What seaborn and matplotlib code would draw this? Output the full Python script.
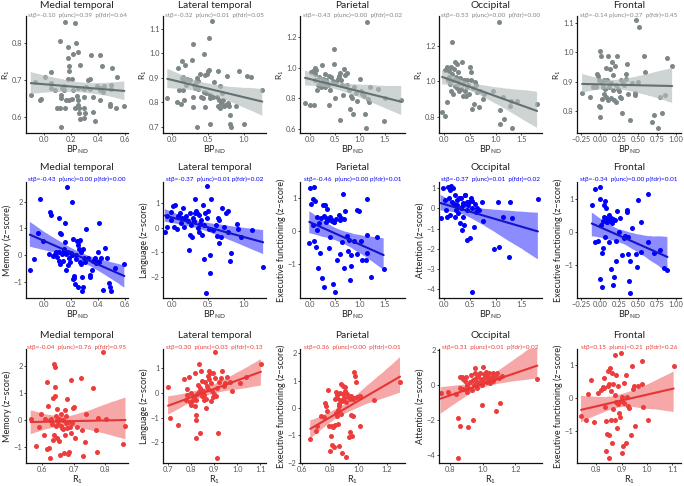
import matplotlib
matplotlib.use("Agg")
import matplotlib.pyplot as plt
import seaborn as sns
import pandas as pd
from matplotlib.collections import PolyCollection

sns.set_theme(style="ticks")
plt.rcParams['font.family'] = ['Lato', 'DejaVu Sans']

regions = ["Medial temporal", "Lateral temporal", "Parietal", "Occipital", "Frontal"]
domains = ["Memory", "Language", "Executive functioning", "Attention", "Executive functioning"]

# ---- row 1: R1 vs BPnd ----
mt_bp_a = [-0.095,0.007,-0.066,-0.03,-0.017,0.051,0.056,0.051,0.080,0.095,0.122,0.12,0.124,0.127,0.129,0.137,0.149,0.154,0.149,0.159,
           0.163,0.176,0.176,0.178,0.185,0.188,0.188,0.205,0.21,0.215,0.217,0.227,0.227,0.241,0.246,0.254,0.256,0.256,0.251,0.259,
           0.266,0.263,0.268,0.29,0.295,0.298,0.3,0.295,0.305,0.312,0.329,0.344,0.349,0.344,0.361,0.361,0.38,0.393,0.412,0.412,
           0.417,0.422,0.429,0.437,0.441,0.495,0.495,0.5,0.485,0.488,0.532,0.539,0.593]
mt_r1_a = [0.659,0.707,0.695,0.645,0.648,0.723,0.692,0.678,0.673,0.623,0.623,0.805,0.573,0.658,0.651,0.678,0.684,0.859,0.672,0.624,
           0.647,0.760,0.702,0.789,0.739,0.725,0.647,0.702,0.649,0.674,0.771,0.854,0.623,0.80,0.656,0.776,0.678,0.647,0.633,0.624,
           0.741,0.611,0.595,0.679,0.623,0.653,0.676,0.598,0.61,0.681,0.699,0.702,0.769,0.675,0.653,0.614,0.589,0.685,0.769,0.674,
           0.645,0.678,0.737,0.667,0.685,0.676,0.687,0.732,0.629,0.635,0.624,0.708,0.629]

lt_bp_a = [-0.07,0.061,0.075,0.099,0.117,0.131,0.131,0.146,0.155,0.155,0.164,0.178,0.192,0.202,0.249,0.272,0.286,0.286,0.296,0.305,
           0.319,0.333,0.343,0.352,0.362,0.366,0.390,0.399,0.427,0.437,0.446,0.460,0.460,0.474,0.484,0.493,0.507,0.516,0.521,0.521,
           0.531,0.554,0.568,0.587,0.624,0.634,0.643,0.653,0.662,0.671,0.685,0.695,0.709,0.728,0.742,0.765,0.775,0.793,0.803,0.812,
           0.822,0.897,0.930,1.0,1.047,1.094,1.258]
lt_r1_a = [0.819,0.801,0.941,0.851,0.795,0.968,0.899,0.888,0.851,0.903,0.810,0.952,0.871,0.895,0.892,0.971,0.821,0.782,1.038,0.871,
           0.858,0.881,0.899,0.70,0.889,0.856,0.916,0.823,0.818,0.844,0.997,0.911,0.782,0.837,0.916,0.926,0.933,1.062,0.711,0.829,
           0.818,1.132,0.823,0.884,0.823,0.929,0.785,0.810,0.775,0.867,0.799,0.837,0.810,0.785,0.789,0.908,0.796,0.785,0.749,0.711,
           0.70,0.785,0.929,0.711,0.908,0.903,0.851]

pa_bp_a = [-0.10,0.0,0.081,0.020,0.068,0.101,0.122,0.095,0.108,0.149,0.162,0.189,0.203,0.216,0.236,0.257,0.270,0.291,0.304,0.324,
           0.338,0.358,0.372,0.385,0.405,0.426,0.459,0.473,0.486,0.50,0.527,0.554,0.574,0.595,0.608,0.622,0.642,0.662,0.689,0.709,
           0.730,0.743,0.777,0.797,0.811,0.831,0.865,0.878,0.912,0.946,1.0,1.027,1.047,1.081,1.108,1.128,1.149,1.162,1.176,1.203,
           1.351,1.486,1.5,1.824]
pa_r1_a = [0.772,0.759,0.759,0.972,0.978,1.0,0.987,0.957,0.917,0.852,0.883,0.935,0.90,0.870,1.015,0.922,0.896,0.870,0.961,0.917,
           0.90,0.883,0.943,0.759,0.852,0.935,0.913,1.020,1.120,0.802,0.907,0.928,0.943,0.965,0.661,0.917,0.885,0.820,0.993,0.950,
           0.965,0.885,0.852,0.733,0.813,0.804,0.70,0.870,0.835,0.783,0.928,0.848,0.83,0.813,0.696,0.609,1.298,0.798,0.776,0.874,
           0.863,0.652,0.804,0.787]

oc_bp_a = [-0.04,0.02,0.007,0.046,0.059,0.078,0.091,0.098,0.111,0.124,0.137,0.143,0.156,0.163,0.176,0.189,0.202,0.208,0.221,0.228,
           0.241,0.254,0.274,0.287,0.293,0.306,0.319,0.352,0.358,0.371,0.391,0.404,0.423,0.436,0.449,0.469,0.489,0.502,0.515,0.521,
           0.541,0.554,0.580,0.599,0.619,0.645,0.671,0.697,0.749,0.775,0.958,1.075,1.088,1.140,1.153,1.283,1.296,1.322,1.414,1.062,
           1.805]
oc_r1_a = [0.828,0.809,1.064,1.079,0.884,1.006,1.057,1.027,0.987,0.949,1.079,1.042,1.219,1.006,0.93,1.070,1.111,0.977,1.027,1.006,
           1.098,0.964,1.051,0.949,0.990,1.020,0.958,1.107,0.986,0.921,1.006,0.949,0.921,0.971,1.008,0.982,0.927,1.079,1.051,1.008,
           0.846,0.964,0.874,0.995,0.982,0.939,0.856,0.945,0.902,0.930,0.945,0.841,0.763,0.915,0.791,0.860,0.893,0.740,0.893,1.336,
           0.871]

fr_bp_a = [-0.233,-0.127,-0.085,-0.051,-0.034,-0.025,-0.008,-0.008,0.0,0.004,0.008,0.021,0.021,0.034,0.042,0.051,0.059,0.068,0.076,0.085,
           0.093,0.106,0.114,0.127,0.136,0.148,0.153,0.161,0.169,0.178,0.191,0.199,0.212,0.220,0.229,0.237,0.254,0.263,0.275,0.284,
           0.297,0.305,0.318,0.339,0.352,0.360,0.373,0.403,0.424,0.458,0.466,0.475,0.500,0.517,0.585,0.593,0.686,0.720,0.763,0.797,
           0.814,0.856,0.890,0.953]
fr_r1_a = [0.860,0.848,0.883,0.881,0.927,0.920,0.906,0.816,0.812,0.779,1.004,0.90,0.987,0.839,0.883,0.904,0.858,0.874,0.947,0.848,
           0.904,0.837,0.987,0.883,0.943,0.843,0.895,0.966,0.923,0.872,0.837,0.952,0.831,0.889,0.987,0.874,0.869,0.848,0.843,0.904,
           0.791,0.895,0.889,0.908,0.927,0.962,0.858,0.770,0.895,0.860,0.854,1.112,0.90,1.088,0.989,0.932,0.762,0.785,0.742,0.848,
           0.791,0.854,0.981,0.952]

# ---- row 2: cognition vs BPnd ----
mt_bp_b = [-0.102,-0.073,-0.041,-0.027,-0.005,0.039,0.044,0.051,0.068,0.080,0.090,0.099,0.109,0.114,0.116,0.119,0.128,0.123,0.138,0.143,
           0.148,0.153,0.157,0.160,0.165,0.167,0.172,0.177,0.182,0.189,0.194,0.201,0.206,0.211,0.213,0.215,0.220,0.225,0.230,0.235,
           0.240,0.245,0.249,0.252,0.257,0.262,0.264,0.269,0.274,0.278,0.281,0.283,0.286,0.288,0.298,0.303,0.310,0.327,0.337,0.341,
           0.358,0.366,0.378,0.383,0.390,0.402,0.404,0.409,0.419,0.433,0.448,0.462,0.477,0.487,0.496,0.528,0.593]
mt_z_b = [-0.56,-0.16,0.84,2.08,0.52,0.04,1.59,1.49,-0.02,0.02,0.10,-0.06,1.39,-0.22,0.12,0.84,0.77,-0.35,0.02,-0.22,
          0.22,0.15,1.18,0.47,0.02,-0.56,2.54,0.12,-0.37,-0.12,-0.25,0.06,1.98,0.0,0.59,-0.89,-0.87,-0.77,-1.09,0.0,
          -0.15,0.52,-1.18,0.37,0.52,0.22,-0.25,0.56,0.10,-0.35,-1.36,-0.81,-1.21,0.22,-0.12,-0.27,0.97,-0.12,-0.74,-0.81,
          -0.56,-0.22,-0.10,-0.31,-0.27,0.10,1.21,-0.25,-0.12,-1.30,0.27,-0.10,-1.05,-1.18,-1.34,-0.50,-0.35]

lt_bp_b = [-0.104,-0.081,-0.071,-0.024,-0.014,0.014,0.024,0.038,0.062,0.085,0.109,0.118,0.133,0.156,0.166,0.180,0.194,0.213,0.227,0.242,
           0.251,0.261,0.275,0.289,0.299,0.313,0.322,0.332,0.346,0.360,0.370,0.379,0.393,0.408,0.417,0.431,0.441,0.450,0.464,0.474,
           0.479,0.488,0.498,0.512,0.521,0.531,0.545,0.573,0.607,0.630,0.640,0.654,0.654,0.678,0.701,0.725,0.749,0.773,0.782,0.801,
           0.820,0.905,0.924,0.962,1.114,1.270]
lt_z_b = [-0.20,0.45,0.04,0.61,0.31,0.86,0.04,0.91,-0.07,0.45,0.59,0.20,0.38,0.79,0.04,0.34,0.45,0.27,-0.89,-0.30,
          0.59,0.11,-0.37,0.38,0.25,0.59,1.16,0.65,0.59,-0.03,-0.20,0.52,0.15,0.31,-0.30,0.89,-1.26,0.11,0.59,-2.66,
          0.38,1.68,0.65,-0.07,-1.84,-1.13,1.16,-0.10,0.11,-0.34,0.38,0.31,-0.64,-0.40,0.79,0.04,0.59,0.65,-0.20,-1.35,
          -1.02,0.15,-0.07,-0.37,-0.12,-1.60]

pa_bp_b = [-0.014,0.0,0.020,0.054,0.068,0.081,0.088,0.108,0.122,0.135,0.149,0.169,0.189,0.203,0.216,0.236,0.257,0.270,0.284,0.297,
           0.311,0.324,0.338,0.351,0.372,0.392,0.405,0.426,0.439,0.459,0.473,0.486,0.507,0.527,0.541,0.574,0.595,0.608,0.622,0.642,
           0.662,0.676,0.689,0.709,0.730,0.757,0.777,0.797,0.811,0.824,0.878,0.932,0.946,0.980,1.014,1.047,1.115,1.135,1.149,1.149,
           1.230,1.338,1.473]
pa_z_b = [-0.35,1.32,0.82,0.98,0.20,1.35,-0.28,0.92,-0.48,0.05,0.45,-1.12,0.25,-0.65,0.40,-1.42,0.80,-1.68,0.48,0.80,
          0.40,0.30,0.68,0.35,-0.50,0.45,-0.18,0.38,0.32,-1.58,0.30,0.30,-1.85,0.38,-0.88,0.50,0.35,-0.70,0.40,-0.32,
          1.15,-1.10,0.38,0.62,-0.15,-0.60,-0.25,-1.48,-1.05,-0.72,-0.28,-0.68,0.65,0.62,-0.28,-0.88,-0.88,0.98,-0.12,-0.65,
          -1.38,-0.18,-1.15]

oc_bp_b = [-0.07,-0.02,0.01,0.03,0.05,0.08,0.10,0.11,0.12,0.14,0.16,0.18,0.19,0.21,0.21,0.23,0.24,0.25,0.27,0.29,
           0.31,0.32,0.34,0.36,0.37,0.38,0.40,0.44,0.45,0.47,0.32,0.36,0.40,0.45,0.49,0.52,0.54,0.55,0.57,0.59,
           0.62,0.64,0.68,0.73,0.76,0.50,0.54,0.96,1.07,1.05,1.14,1.25,1.28,1.32,1.82]
oc_z_b = [-0.49,0.99,0.41,-0.08,-0.41,1.06,0.49,-0.33,0.90,1.11,0.33,0.99,0.20,-0.41,0.66,-0.08,0.41,0.16,-0.25,0.49,
          -0.74,0.0,-1.07,0.25,-0.41,-0.82,0.66,0.33,-1.56,0.16,0.49,0.16,0.66,-0.08,0.33,0.49,0.03,0.36,-0.91,0.20,
          -0.17,0.0,-0.08,0.33,-0.63,-1.48,-4.14,-2.0,-1.89,0.33,-0.41,-2.38,0.33,-0.49,0.44]

fr_bp_b = [-0.105,-0.063,-0.059,-0.029,0.0,0.0,0.008,0.017,0.025,0.034,0.042,0.042,0.050,0.059,0.063,0.067,0.076,0.084,0.092,0.101,
           0.109,0.118,0.126,0.134,0.143,0.151,0.160,0.168,0.176,0.193,0.202,0.210,0.218,0.231,0.252,0.273,0.294,0.315,0.336,0.353,
           0.361,0.370,0.378,0.387,0.395,0.403,0.429,0.483,0.496,0.504,0.538,0.546,0.630,0.639,0.714,0.798,0.840,0.891]
fr_z_b = [0.82,-0.32,1.30,-0.28,-1.42,1.35,0.98,0.20,-0.65,-1.68,0.32,-0.48,0.80,0.45,0.92,-0.15,0.40,0.72,0.30,0.30,
          0.38,0.50,-0.32,0.35,-1.12,0.42,0.25,-1.60,0.38,-1.38,0.35,-0.88,-0.28,0.62,-0.02,0.42,-0.70,-0.18,-0.12,0.65,
          0.58,-0.68,-0.15,-1.48,-1.85,-0.88,0.12,-0.68,-1.05,0.95,-0.60,0.30,1.15,-0.32,-0.65,-0.55,-1.10,-1.15]

# ---- row 3: cognition vs R1 ----
mt_r1_c = [0.563,0.581,0.590,0.597,0.604,0.610,0.615,0.616,0.619,0.621,0.623,0.625,0.628,0.631,0.633,0.635,0.636,0.638,0.639,0.640,
           0.641,0.642,0.644,0.646,0.647,0.648,0.650,0.652,0.654,0.656,0.659,0.660,0.663,0.665,0.667,0.670,0.671,0.673,0.675,0.677,
           0.678,0.680,0.681,0.683,0.685,0.688,0.691,0.692,0.694,0.698,0.701,0.704,0.711,0.722,0.725,0.729,0.735,0.740,0.760,0.771,
           0.774,0.777,0.792,0.802,0.857,0.865]
mt_z_c = [0.02,-0.97,-0.27,0.22,-0.56,0.02,1.39,-1.09,0.52,-1.05,-1.43,0.0,0.02,-0.15,-0.77,0.81,-0.56,2.08,0.89,1.21,
          1.96,-0.25,0.12,0.40,-0.68,0.0,-0.15,-0.81,0.02,-1.30,-0.25,0.22,-0.31,0.0,-0.35,-1.24,0.37,-0.56,0.12,-0.12,
          -0.31,0.77,-1.26,-0.10,-1.21,-0.27,1.46,-0.50,-0.12,0.43,0.47,-0.68,-0.27,1.55,-0.40,-1.36,-0.84,0.22,1.18,-0.37,
          -1.21,0.06,2.50,0.02,-0.89,-0.25]

lt_r1_c = [0.701,0.711,0.746,0.771,0.777,0.781,0.785,0.791,0.795,0.799,0.802,0.805,0.809,0.813,0.816,0.819,0.820,0.822,0.823,0.824,
           0.827,0.830,0.833,0.836,0.838,0.841,0.844,0.847,0.850,0.852,0.855,0.858,0.861,0.864,0.866,0.869,0.872,0.875,0.878,0.880,
           0.883,0.886,0.889,0.892,0.894,0.897,0.900,0.903,0.906,0.907,0.911,0.914,0.917,0.921,0.928,0.935,0.942,0.949,0.956,0.967,
           0.977,1.012,1.037,1.103]
lt_z_c = [0.23,-1.01,-1.32,0.57,-0.27,0.14,-0.07,0.65,-0.38,0.0,-0.47,-0.34,-0.11,-0.16,0.81,-0.54,-1.11,-1.82,-0.88,-0.27,
          -0.03,0.34,1.19,0.03,-1.62,0.20,0.88,-0.11,0.47,0.07,-0.30,-0.07,0.43,-0.24,-0.61,0.30,0.70,0.14,0.88,0.57,
          0.81,0.41,-0.34,0.07,0.81,-0.16,-0.03,0.61,1.65,-0.11,-2.64,0.20,-1.62,0.43,0.61,0.88,0.30,0.41,0.65,0.43,
          0.07,0.41,0.65,1.18]

pa_r1_c = [0.660,0.700,0.707,0.735,0.758,0.763,0.770,0.781,0.786,0.795,0.800,0.809,0.812,0.816,0.821,0.828,0.833,0.837,0.840,0.842,
           0.847,0.849,0.851,0.856,0.858,0.860,0.863,0.865,0.867,0.870,0.874,0.879,0.881,0.884,0.888,0.893,0.898,0.902,0.907,0.909,
           0.914,0.921,0.926,0.933,0.937,0.940,0.944,0.949,0.953,0.958,0.963,0.967,0.972,0.979,0.986,0.991,1.009,1.014,1.112,1.293]
pa_z_c = [-1.13,-0.83,-0.67,-0.28,-0.34,0.18,0.06,-0.10,0.67,-0.65,-1.56,-1.01,-0.67,-1.35,-0.71,-1.44,-0.62,0.33,0.60,-0.18,
          -0.30,0.35,0.48,-0.06,-0.59,-1.38,0.06,0.15,0.30,0.55,-0.22,0.88,-1.65,0.27,0.51,0.79,0.35,0.63,0.76,-1.80,
          0.23,0.51,0.39,-1.07,-0.87,0.33,-0.26,0.45,-1.01,0.33,-0.28,1.33,0.35,1.16,0.96,0.39,0.43,-0.65,0.30,0.96]

oc_r1_c = [0.740,0.787,0.835,0.849,0.859,0.849,0.859,0.870,0.880,0.890,0.901,0.904,0.911,0.859,0.876,0.884,0.896,0.904,0.910,0.921,
           0.925,0.931,0.938,0.941,0.946,0.952,0.958,0.962,0.966,0.972,0.978,0.983,0.987,0.993,0.995,0.999,1.003,1.007,1.014,1.020,
           1.024,1.028,1.034,1.040,1.044,1.049,1.055,1.061,1.065,1.075,1.080,1.086,1.102,1.106,1.117,1.336,0.952]
oc_z_c = [-0.44,-0.38,-0.51,-1.89,-2.33,-4.17,-0.19,0.44,0.32,0.24,0.0,-0.38,-0.19,0.47,-0.25,0.32,0.44,-0.06,-2.37,0.19,
          0.57,-0.28,-1.99,0.28,0.0,0.66,0.38,-0.19,0.19,0.51,0.10,0.66,0.32,0.0,-1.14,1.04,0.24,0.63,0.47,0.76,
          0.19,0.51,0.38,0.66,0.10,0.32,0.47,0.70,0.24,0.47,-1.46,0.66,0.38,-1.04,0.51,0.32,0.95]

fr_r1_c = [0.740,0.758,0.766,0.778,0.791,0.806,0.817,0.825,0.829,0.832,0.834,0.838,0.839,0.842,0.845,0.847,0.850,0.851,0.852,0.855,
           0.857,0.860,0.862,0.864,0.865,0.868,0.873,0.875,0.876,0.878,0.880,0.883,0.885,0.888,0.890,0.893,0.896,0.898,0.901,0.903,
           0.906,0.908,0.911,0.916,0.918,0.921,0.926,0.929,0.936,0.940,0.944,0.949,0.955,0.966,0.982,0.985,0.982,1.004,1.106]
fr_z_c = [-0.56,-0.66,0.14,0.54,-0.73,0.17,0.24,0.34,0.62,0.32,-0.28,-0.70,-1.60,-1.08,0.37,0.82,-1.13,0.44,-1.83,0.92,
          -0.68,0.22,-1.36,0.77,0.42,-0.33,-0.68,1.32,0.10,-0.13,0.72,-0.90,-0.18,0.37,-0.46,-0.58,-0.08,1.37,0.04,-1.68,
          -1.46,0.47,-0.16,-1.38,0.70,0.02,-0.23,-0.30,-1.13,0.97,0.27,0.37,-0.86,0.37,0.44,-0.28,1.14,-0.66,0.97]

stats_a = ["stβ=-0.10  p(unc)=0.39  p(fdr)=0.64", "stβ=-0.32  p(unc)=0.01  p(fdr)=0.05",
           "stβ=-0.43  p(unc)=0.00  p(fdr)=0.02", "stβ=-0.53  p(unc)=0.00  p(fdr)=0.00",
           "stβ=-0.14 p(unc)=0.27  p(fdr)=0.45"]
stats_b = ["stβ=-0.43  p(unc)=0.00 p(fdr)=0.00", "stβ=-0.37  p(unc)=0.01 p(fdr)=0.02",
           "stβ=-0.46  p(unc)=0.00 p(fdr)=0.01", "stβ=-0.37  p(unc)=0.01  p(fdr)=0.02",
           "stβ=-0.34  p(unc)=0.00 p(fdr)=0.01"]
stats_c = ["stβ=-0.04  p(unc)=0.76  p(fdr)=0.95", "stβ=0.30  p(unc)=0.03  p(fdr)=0.13",
           "stβ=0.36  p(unc)=0.00  p(fdr)=0.01", "stβ=0.31  p(unc)=0.01  p(fdr)=0.02",
           "stβ=0.15  p(unc)=0.21  p(fdr)=0.26"]

row_a = [(mt_bp_a, mt_r1_a), (lt_bp_a, lt_r1_a), (pa_bp_a, pa_r1_a), (oc_bp_a, oc_r1_a), (fr_bp_a, fr_r1_a)]
row_b = [(mt_bp_b, mt_z_b), (lt_bp_b, lt_z_b), (pa_bp_b, pa_z_b), (oc_bp_b, oc_z_b), (fr_bp_b, fr_z_b)]
row_c = [(mt_r1_c, mt_z_c), (lt_r1_c, lt_z_c), (pa_r1_c, pa_z_c), (oc_r1_c, oc_z_c), (fr_r1_c, fr_z_c)]

bp_ticks = [[0, .2, .4, .6], [0, .5, 1], [0, .5, 1, 1.5], [0, .5, 1, 1.5], [-.25, 0, .25, .5, .75, 1]]
bp_lims = [(-0.13, 0.62), (-0.13, 1.31), (-0.2, 1.9), (-0.1, 1.9), (-0.3, 1.07)]
r1_ticks = [[.6, .7, .8], [.7, .8, .9, 1.0, 1.1], [.6, .8, 1.0, 1.2], [.8, 1.0, 1.2], [.8, .9, 1.0, 1.1]]
r1_lims_a = [(0.556, 0.874), (0.675, 1.152), (0.574, 1.335), (0.711, 1.367), (0.724, 1.125)]
r1_lims_c = [(0.548, 0.873), (0.679, 1.125), (0.588, 1.328), (0.73, 1.365), (0.724, 1.135)]
z_ticks_b = [[-1, 0, 1, 2], [-2, -1, 0, 1], [-1, 0, 1], [-4, -3, -2, -1, 0, 1], [-1, 0, 1]]
z_ticks_c = [[-1, 0, 1, 2], [-2, -1, 0, 1], [-2, -1, 0, 1, 2], [-4, -2, 0, 2], [-1, 0, 1]]
z_lims_b = [(-1.61, 2.73), (-2.85, 1.84), (-2.02, 1.5), (-4.42, 1.3), (-2.0, 1.5)]
z_lims_c = [(-1.61, 2.63), (-2.84, 1.78), (-2.01, 2.16), (-4.43, 2.05), (-1.98, 1.5)]

col_px = [(26, 128), (163, 266), (300, 405), (439, 542), (577, 681)]
row_px = [(16, 133), (182, 298), (349, 463)]
title_y = [5, 168, 335]
stats_y = [15, 179, 347]

pt_cols = ["#7d8787", "#0000ff", "#ec3c3c"]
line_cols = ["#657070", "#1414c8", "#e53535"]
band_cols = [("#b4bcbc", 0.65), ("#0000ff", 0.45), ("#ec3c3c", 0.45)]

W, H = 684, 486
fig = plt.figure(figsize=(W / 100, H / 100), dpi=100)


def fmt(v, nd):
    s = f"{v:.{nd}f}"
    return s.replace("-", "\u2212")


for r in range(3):
    for c in range(5):
        l, rr = col_px[c]
        t, b = row_px[r]
        ax = fig.add_axes([l / W, 1 - b / H, (rr - l) / W, (b - t) / H])
        xs, ys = [row_a, row_b, row_c][r][c]
        df = pd.DataFrame({"x": xs, "y": ys})
        sns.regplot(data=df, x="x", y="y", ax=ax, color=pt_cols[r], seed=0,
                    scatter_kws=dict(s=13, linewidths=0, alpha=1),
                    line_kws=dict(color=line_cols[r], lw=1.5))
        for coll in ax.collections:
            if isinstance(coll, PolyCollection):
                coll.set_facecolor(band_cols[r][0])
                coll.set_alpha(band_cols[r][1])
                coll.set_edgecolor("none")
        if r == 0:
            xt, xl, yt, yl = bp_ticks[c], bp_lims[c], r1_ticks[c], r1_lims_a[c]
            xnd, ynd = (2 if c == 4 else 1), 1
            xlab, ylab = "BP$_{\\mathregular{ND}}$", "R$_{\\mathregular{1}}$"
        elif r == 1:
            xt, xl, yt, yl = bp_ticks[c], bp_lims[c], z_ticks_b[c], z_lims_b[c]
            xnd, ynd = (2 if c == 4 else 1), 0
            xlab, ylab = "BP$_{\\mathregular{ND}}$", domains[c] + " (z\u2212score)"
        else:
            xt, xl, yt, yl = r1_ticks[c], r1_lims_c[c], z_ticks_c[c], z_lims_c[c]
            xnd, ynd = 1, 0
            xlab, ylab = "R$_{\\mathregular{1}}$", domains[c] + " (z\u2212score)"
        ax.set_xlim(xl)
        ax.set_ylim(yl)
        ax.set_xticks(xt)
        ax.set_xticklabels([fmt(v, xnd) for v in xt])
        ax.set_yticks(yt)
        ax.set_yticklabels([fmt(v, ynd) for v in yt])
        ax.set_xlabel(xlab, fontsize=6.5, labelpad=0, color="#222222")
        ax.tick_params(labelsize=5.4, length=1.5, width=0.6, pad=1.0, colors="#222222", labelcolor="#555555")
        if r == 0:
            # R1 label sits close to the tick labels, centred ~19.5 px left of the spine
            ax.set_ylabel(ylab, fontsize=6.0, color="#222222", va="center")
            ax.yaxis.set_label_coords(-19.5 / (rr - l), 0.5)
        else:
            ax.set_ylabel(ylab, fontsize=6.5, labelpad=1.5, color="#222222")
        sns.despine(ax=ax)
        for sp in ["left", "bottom"]:
            ax.spines[sp].set_linewidth(0.9)
            ax.spines[sp].set_color("#111111")
        cx = (l + rr) / 2 / W
        fig.text(cx, 1 - title_y[r] / H, regions[c], ha="center", va="center", fontsize=7.4, color="#222222")
        st = [stats_a, stats_b, stats_c][r][c]
        fig.text(cx, 1 - stats_y[r] / H, st, ha="center", va="center", fontsize=4.6, color=pt_cols[r])

fig.savefig("out.png", dpi=100)
